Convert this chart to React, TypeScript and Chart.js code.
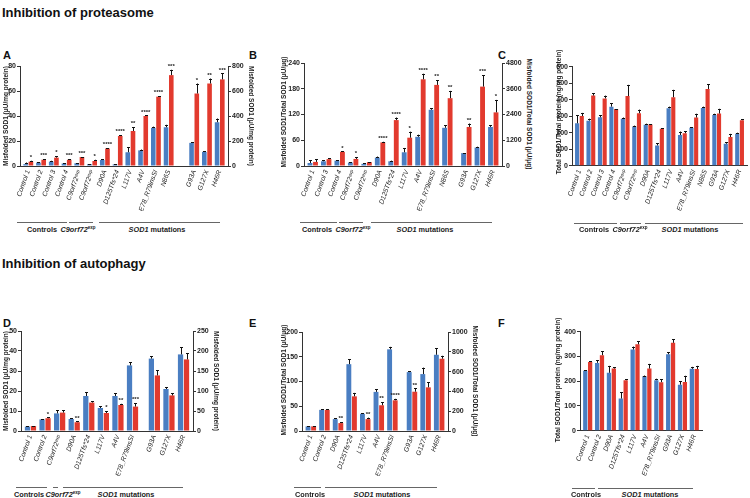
import React, { useEffect, useRef } from "react";
import { Chart, registerables } from "chart.js";
Chart.register(...registerables);

const FONT = "'Liberation Sans', Arial, Helvetica, sans-serif";
const BLUE = "rgb(74,126,194)";
const RED = "rgb(226,58,46)";
const AX = "#333";

// ---------- Panel A: proteasome, misfolded SOD1 ----------
const catsA = ["Control 1", "Control 2", "Control 3", "Control 4", "C9orf72ᵉˣᵖ", "C9orf72ᵉˣᵖ", "D90A", "D125Tfs*24", "L117V", "A4V", "E78_R79insSI", "N86S", "G93A", "G127X", "H46R"];
const blueA = [1.5, 2.7, 3.5, 2, 2.2, 1.5, 4.8, 1.3, 11, 12.5, 30.5, 31, 18.5, 11.3, 35];
const blueErrA = [2.8, 3, 4.2, 2.4, 2.6, 1.8, 5.3, 1.6, 15, 13.2, 31.5, 33, 19, 11.8, 38];
const redA = [35, 50, 67, 50, 72, 40, 140, 240, 280, 400, 555, 727, 580, 660, 693];
const redErrA = [42, 54, 80, 54, 76, 50, 143, 246, 310, 405, 560, 770, 660, 700, 740];
const starsA = ["*", "***", "*", "***", "***", "*", "****", "****", "**", "****", "****", "***", "*", "**", "***"];

// ---------- Panel B: proteasome, misfolded / total ----------
const catsB = ["Control 1", "Control 3", "Control 4", "C9orf72ᵉˣᵖ", "C9orf72ᵉˣᵖ", "D90A", "D125Tfs*24", "L117V", "A4V", "E78_R79insSI", "N86S", "G93A", "G127X", "H46R"];
const blueB = [7, 11, 12.5, 8, 5, 19.5, 11, 32, 68, 131, 89, 30, 43, 91];
const blueErrB = [13, 13, 13.5, 9, 7, 22, 12.5, 42, 73, 135, 95, 31, 45, 95];
const redB = [190, 320, 660, 330, 180, 1100, 2140, 1320, 4040, 3780, 3160, 1820, 3700, 2500];
const redErrB = [320, 370, 680, 420, 190, 1130, 2260, 1600, 4300, 4000, 3500, 1980, 4240, 3080];
const starsB = ["", "", "*", "*", "", "****", "****", "*", "****", "**", "**", "**", "***", "*"];

// ---------- Panel C: proteasome, total SOD1 ----------
const catsC = ["Control 1", "Control 2", "Control 3", "Control 4", "C9orf72ᵉˣᵖ", "C9orf72ᵉˣᵖ", "D90A", "D125Tfs*24", "L117V", "A4V", "E78_R79insSI", "N86S", "G93A", "G127X", "H46R"];
const blueC = [257, 273, 293, 358, 285, 237, 248, 123, 348, 186, 230, 350, 307, 133, 193];
const blueErrC = [305, 285, 305, 380, 292, 243, 255, 135, 358, 207, 233, 358, 315, 142, 200];
const redC = [301, 425, 408, 343, 422, 318, 250, 224, 415, 197, 292, 465, 316, 174, 276];
const redErrC = [320, 440, 425, 343, 490, 340, 250, 227, 460, 208, 315, 495, 345, 193, 280];

// ---------- Panel D: autophagy, misfolded SOD1 ----------
const catsD = ["Control 1", "Control 2", "C9orf72ᵉˣᵖ", "D90A", "D125Tfs*24", "L117V", "A4V", "E78_R79insSI", "G93A", "G127X", "H46R"];
const blueD = [2.2, 5.8, 8.8, 6, 17.5, 11.5, 17.5, 32.8, 36.2, 21, 38.3];
const blueErrD = [2.4, 6, 10.5, 6.5, 19.5, 12.5, 19, 34.5, 37.5, 21.8, 42];
const redD = [12.5, 32, 46, 22, 71, 45, 65, 61, 139, 89, 179];
const redErrD = [13.5, 34, 52, 24, 75, 50, 68, 70, 152, 94, 194];
const starsD = ["", "*", "", "**", "", "*", "**", "***", "", "", ""];

// ---------- Panel E: autophagy, misfolded / total ----------
const catsE = ["Control 1", "Control 2", "D90A", "D125Tfs*24", "L117V", "A4V", "E78_R79insSI", "G93A", "G127X", "H46R"];
const blueE = [9.3, 42.7, 24, 135, 34.7, 79, 165, 119, 115, 154];
const blueErrE = [10, 43.5, 25.5, 145, 36, 84, 170, 121, 128, 167];
const redE = [47, 213, 80, 350, 120, 260, 310, 397, 441, 730];
const redErrE = [50, 218, 90, 385, 135, 290, 325, 430, 490, 760];
const starsE = ["", "", "**", "", "**", "**", "****", "**", "", ""];

// ---------- Panel F: autophagy, total SOD1 ----------
const catsF = ["Control 1", "Control 2", "D90A", "D125Tfs*24", "L117V", "A4V", "E78_R79insSI", "G93A", "G127X", "H46R"];
const blueF = [242, 274, 234, 130, 328, 220, 204, 309, 186, 250];
const blueErrF = [245, 284, 262, 155, 340, 223, 210, 318, 200, 258];
const redF = [278, 305, 251, 204, 349, 251, 196, 355, 197, 249];
const redErrF = [281, 320, 256, 208, 362, 270, 207, 370, 222, 262];

const errPlugin = {
  id: "errbars",
  afterDatasetsDraw(chart: any) {
    const ctx = chart.ctx;
    chart.data.datasets.forEach((ds: any, di: number) => {
      const meta = chart.getDatasetMeta(di);
      const scale = chart.scales[ds.yAxisID];
      meta.data.forEach((el: any, i: number) => {
        const e = ds.errs ? ds.errs[i] : null;
        if (e == null) return;
        const yv = scale.getPixelForValue(e);
        const x = Math.round(el.x) + 0.5;
        ctx.save();
        ctx.strokeStyle = "#111";
        ctx.lineWidth = 1;
        ctx.beginPath();
        if (yv < el.y - 0.5) {
          ctx.moveTo(x, el.y);
          ctx.lineTo(x, yv);
        }
        ctx.moveTo(x - 1.5, Math.round(yv) + 0.5);
        ctx.lineTo(x + 1.5, Math.round(yv) + 0.5);
        ctx.stroke();
        const s = ds.stars ? ds.stars[i] : "";
        if (s) {
          ctx.fillStyle = "#222";
          ctx.font = `bold 6px ${FONT}`;
          ctx.textAlign = "center";
          ctx.textBaseline = "bottom";
          ctx.fillText(s, el.x, yv - 0.5);
        }
        ctx.restore();
      });
    });
  },
};

type Rect = { l: number; t: number; w: number; h: number };
type PRect = { l: number; r: number; t: number; b: number };
type PanelCfg = {
  cats: string[];
  blue: number[];
  blueErr: number[];
  red: number[];
  redErr: number[];
  stars?: string[];
  dual: boolean;
  yMax: number;
  yStep: number;
  y2Max?: number;
  y2Step?: number;
  canvas: Rect;
  plot: PRect;
  gapAfter?: number;
  gapSize?: number;
  xPad: number;
};

const YW = 18;
const Y2W = 20;
const XH = 45;

function Panel({ cfg }: { cfg: PanelCfg }) {
  const ref = useRef<HTMLCanvasElement>(null);
  useEffect(() => {
    const c = ref.current!;
    const positions = cfg.cats.map((_, i) => i + (cfg.gapAfter != null && i > cfg.gapAfter ? cfg.gapSize || 0 : 0));
    const last = positions[positions.length - 1];
    const { canvas, plot } = cfg;
    const padding = {
      left: plot.l - canvas.l - YW,
      right: canvas.l + canvas.w - plot.r - (cfg.dual ? Y2W : 0),
      top: plot.t - canvas.t,
      bottom: canvas.t + canvas.h - plot.b - XH,
    };
    const yTickFont = { family: FONT, size: 7, weight: "bold" as const };
    const scales: any = {
      x: {
        type: "linear",
        min: -cfg.xPad,
        max: last + cfg.xPad,
        offset: false,
        grid: { display: false, drawTicks: false },
        border: { display: true, color: AX, width: 1 },
        ticks: {
          autoSkip: false,
          minRotation: 70,
          maxRotation: 70,
          padding: 3,
          color: "#222",
          font: { family: FONT, size: 6.8, style: "italic" },
          callback: (_v: any, i: number) => cfg.cats[i],
        },
        afterBuildTicks: (ax: any) => {
          ax.ticks = positions.map((v) => ({ value: v }));
        },
        afterFit: (ax: any) => {
          ax.height = XH;
          ax.paddingLeft = 0;
          ax.paddingRight = 0;
        },
      },
      y: {
        type: "linear",
        position: "left",
        min: 0,
        max: cfg.yMax,
        grid: { display: true, drawOnChartArea: false, drawTicks: true, tickLength: 3, color: AX },
        border: { display: true, color: AX, width: 1 },
        ticks: { stepSize: cfg.yStep, padding: 1, color: "#222", font: yTickFont, callback: (v: any) => String(v) },
        afterFit: (ax: any) => {
          ax.width = YW;
          ax.paddingTop = 0;
          ax.paddingBottom = 0;
        },
      },
    };
    if (cfg.dual) {
      scales.y2 = {
        type: "linear",
        position: "right",
        min: 0,
        max: cfg.y2Max,
        grid: { display: true, drawOnChartArea: false, drawTicks: true, tickLength: 3, color: AX },
        border: { display: true, color: AX, width: 1 },
        ticks: { stepSize: cfg.y2Step, padding: 1, color: "#222", font: yTickFont, callback: (v: any) => String(v) },
        afterFit: (ax: any) => {
          ax.width = Y2W;
          ax.paddingTop = 0;
          ax.paddingBottom = 0;
        },
      };
    }
    const chart = new Chart(c, {
      type: "bar",
      data: {
        datasets: [
          {
            label: "Untreated",
            data: positions.map((x, i) => ({ x, y: cfg.blue[i] })),
            backgroundColor: BLUE,
            yAxisID: "y",
            errs: cfg.blueErr,
          } as any,
          {
            label: "Inhibitor",
            data: positions.map((x, i) => ({ x, y: cfg.red[i] })),
            backgroundColor: RED,
            yAxisID: cfg.dual ? "y2" : "y",
            errs: cfg.redErr,
            stars: cfg.stars,
          } as any,
        ],
      },
      options: {
        responsive: false,
        animation: false,
        devicePixelRatio: 1,
        layout: { autoPadding: false, padding } as any,
        plugins: { legend: { display: false }, tooltip: { enabled: false }, title: { display: false } },
        datasets: { bar: { categoryPercentage: 0.82, barPercentage: 0.88 } },
        scales,
      },
      plugins: [errPlugin],
    });
    return () => chart.destroy();
  }, []);
  const { canvas } = cfg;
  return (
    <canvas
      ref={ref}
      width={canvas.w}
      height={canvas.h}
      style={{ position: "absolute", left: canvas.l, top: canvas.t, width: canvas.w, height: canvas.h }}
    />
  );
}

function VText({ x, y, text, dir }: { x: number; y: number; text: string; dir: number }) {
  return (
    <div
      style={{
        position: "absolute",
        left: x,
        top: y,
        transform: `translate(-50%,-50%) rotate(${dir}deg)`,
        whiteSpace: "nowrap",
        fontSize: 6.5,
        fontWeight: "bold",
        color: "#222",
        lineHeight: 1,
      }}
    >
      {text}
    </div>
  );
}

function GLine({ x1, x2, y }: { x1: number; x2: number; y: number }) {
  return <div style={{ position: "absolute", left: x1, top: y, width: x2 - x1, height: 1, background: "#666" }} />;
}

function GLabel({ x, y, children }: { x: number; y: number; children: any }) {
  return (
    <div
      style={{
        position: "absolute",
        left: x,
        top: y,
        transform: "translate(-50%,-50%)",
        whiteSpace: "nowrap",
        fontSize: 7.3,
        fontWeight: "bold",
        color: "#222",
        lineHeight: 1,
      }}
    >
      {children}
    </div>
  );
}

const C9 = (
  <>
    <i>C9orf72</i>
    <sup style={{ fontSize: 4.5, verticalAlign: "3px" }}>exp</sup>
  </>
);
const SODM = (
  <>
    <i>SOD1</i> mutations
  </>
);

function Letter({ x, y, t }: { x: number; y: number; t: string }) {
  return (
    <div style={{ position: "absolute", left: x, top: y, transform: "translateY(-50%)", fontSize: 11, fontWeight: "bold", lineHeight: 1 }}>{t}</div>
  );
}

const panels: PanelCfg[] = [
  {
    cats: catsA, blue: blueA, blueErr: blueErrA, red: redA, redErr: redErrA, stars: starsA,
    dual: true, yMax: 80, yStep: 20, y2Max: 800, y2Step: 200,
    canvas: { l: 0, t: 56, w: 250, h: 164 }, plot: { l: 20, r: 228, t: 66, b: 166 },
    gapAfter: 11, gapSize: 1, xPad: 0.65,
  },
  {
    cats: catsB, blue: blueB, blueErr: blueErrB, red: redB, redErr: redErrB, stars: starsB,
    dual: true, yMax: 240, yStep: 60, y2Max: 4800, y2Step: 1200,
    canvas: { l: 250, t: 53, w: 275, h: 167 }, plot: { l: 304, r: 502, t: 63, b: 166 },
    gapAfter: 10, gapSize: 0.41, xPad: 0.65,
  },
  {
    cats: catsC, blue: blueC, blueErr: blueErrC, red: redC, redErr: redErrC,
    dual: false, yMax: 600, yStep: 100,
    canvas: { l: 540, t: 56, w: 210, h: 164 }, plot: { l: 572, r: 747, t: 66.7, b: 165.7 },
    xPad: 0.65,
  },
  {
    cats: catsD, blue: blueD, blueErr: blueErrD, red: redD, redErr: redErrD, stars: starsD,
    dual: true, yMax: 50, yStep: 10, y2Max: 250, y2Step: 50,
    canvas: { l: 0, t: 321, w: 215, h: 163 }, plot: { l: 21, r: 193, t: 331, b: 431 },
    gapAfter: 7, gapSize: 0.5, xPad: 0.65,
  },
  {
    cats: catsE, blue: blueE, blueErr: blueErrE, red: redE, redErr: redErrE, stars: starsE,
    dual: true, yMax: 200, yStep: 50, y2Max: 1000, y2Step: 200,
    canvas: { l: 280, t: 322, w: 195, h: 162 }, plot: { l: 302, r: 448, t: 332, b: 431 },
    gapAfter: 6, gapSize: 0.44, xPad: 0.65,
  },
  {
    cats: catsF, blue: blueF, blueErr: blueErrF, red: redF, redErr: redErrF,
    dual: false, yMax: 400, yStep: 100,
    canvas: { l: 540, t: 321, w: 210, h: 163 }, plot: { l: 580, r: 702, t: 331.7, b: 430.7 },
    xPad: 0.65,
  },
];

const T1 = "Misfolded SOD1 (μU/mg protein)";
const T2 = "Misfolded SOD1/Total SOD1 (μU/μg)";
const T3 = "Total SOD1/Total protein (ng/mg protein)";

export default function App() {
  return (
    <div
      style={{
        position: "absolute",
        left: 0,
        top: 0,
        width: 750,
        height: 498,
        background: "#fff",
        overflow: "hidden",
        fontFamily: FONT,
        color: "#111",
      }}
    >
      <div style={{ position: "absolute", left: 2, top: 12, transform: "translateY(-50%)", fontSize: 13, fontWeight: "bold", whiteSpace: "nowrap", lineHeight: 1 }}>
        Inhibition of proteasome
      </div>
      <div style={{ position: "absolute", left: 2, top: 263, transform: "translateY(-50%)", fontSize: 13, fontWeight: "bold", whiteSpace: "nowrap", lineHeight: 1 }}>
        Inhibition of autophagy
      </div>
      <Letter x={3} y={55} t="A" />
      <Letter x={249} y={55} t="B" />
      <Letter x={498} y={55} t="C" />
      <Letter x={3} y={323} t="D" />
      <Letter x={249} y={323} t="E" />
      <Letter x={498} y={323} t="F" />

      {panels.map((p, i) => (
        <Panel key={i} cfg={p} />
      ))}

      <VText x={6} y={116} text={T1} dir={-90} />
      <VText x={251} y={116} text={T1} dir={90} />
      <VText x={284} y={112} text={T2} dir={-90} />
      <VText x={529} y={114} text={T2} dir={90} />
      <VText x={559} y={112} text={T3} dir={-90} />
      <VText x={6} y={381} text={T1} dir={-90} />
      <VText x={216} y={381} text={T1} dir={90} />
      <VText x={284} y={380} text={T2} dir={-90} />
      <VText x={475} y={381} text={T2} dir={90} />
      <VText x={558} y={380} text={T3} dir={-90} />

      <GLine x1={17} x2={67} y={222} />
      <GLine x1={69} x2={93} y={222} />
      <GLine x1={99} x2={220} y={222} />
      <GLabel x={42} y={230}>Controls</GLabel>
      <GLabel x={78} y={230}>{C9}</GLabel>
      <GLabel x={157} y={230}>{SODM}</GLabel>

      <GLine x1={300} x2={337} y={222} />
      <GLine x1={339} x2={363} y={222} />
      <GLine x1={371} x2={492} y={222} />
      <GLabel x={317} y={230}>Controls</GLabel>
      <GLabel x={353} y={230}>{C9}</GLabel>
      <GLabel x={425} y={230}>{SODM}</GLabel>

      <GLine x1={574} x2={617} y={223} />
      <GLine x1={620} x2={641} y={223} />
      <GLine x1={645} x2={743} y={223} />
      <GLabel x={594} y={230}>Controls</GLabel>
      <GLabel x={630} y={230}>{C9}</GLabel>
      <GLabel x={690} y={230}>{SODM}</GLabel>

      <GLine x1={16} x2={47} y={487} />
      <GLine x1={53} x2={58} y={487} />
      <GLine x1={63} x2={183} y={487} />
      <GLabel x={29} y={495}>Controls</GLabel>
      <GLabel x={63} y={495}>{C9}</GLabel>
      <GLabel x={126} y={495}>{SODM}</GLabel>

      <GLine x1={294} x2={321} y={487} />
      <GLine x1={325} x2={437} y={487} />
      <GLabel x={310} y={495}>Controls</GLabel>
      <GLabel x={382} y={495}>{SODM}</GLabel>

      <GLine x1={572} x2={595} y={488} />
      <GLine x1={598} x2={693} y={488} />
      <GLabel x={586} y={495}>Controls</GLabel>
      <GLabel x={650} y={495}>{SODM}</GLabel>
    </div>
  );
}
